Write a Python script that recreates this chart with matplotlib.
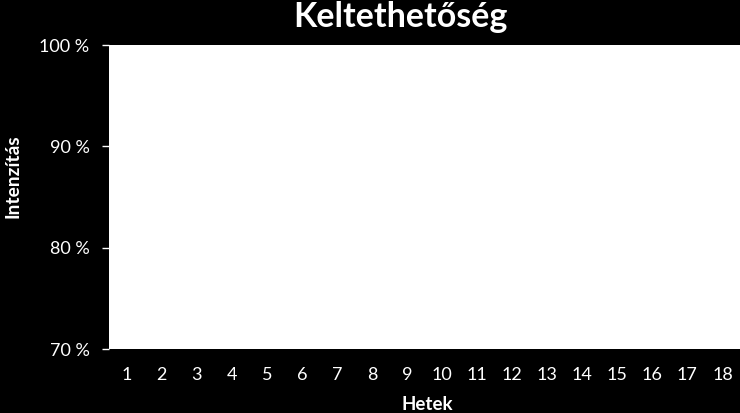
import matplotlib
matplotlib.use("Agg")
import matplotlib.pyplot as plt

plt.rcParams["font.family"] = ["Lato", "DejaVu Sans"]

weeks = [str(w) for w in range(1, 19)]
y_ticks = [0.70, 0.80, 0.90, 1.00]
y_tick_labels = ["70 %", "80 %", "90 %", "100 %"]
title = "Keltethetőség"
x_label = "Hetek"
y_label = "Intenzítás"

fig = plt.figure(figsize=(7.4, 4.13), dpi=100, facecolor="black")
ax = fig.add_axes([109 / 740, 1 - 349 / 413, 1 - 109 / 740, (349 - 45) / 413])
ax.set_facecolor("white")

positions = list(range(1, len(weeks) + 1))
ax.set_xlim(0.5, len(weeks) + 0.5)
ax.set_ylim(0.70, 1.00)
ax.set_xticks(positions)
ax.set_xticklabels(weeks)
ax.set_yticks(y_ticks)
ax.set_yticklabels(y_tick_labels)

for s in ax.spines.values():
    s.set_visible(False)

ax.tick_params(axis="x", length=0, pad=13, colors="white", labelsize=13)
ax.tick_params(axis="y", length=5, width=1, pad=9, colors="white", labelsize=13)

fig.text(400 / 740, 1 - 17 / 413, title, color="white", fontsize=24.5,
         fontweight="bold", ha="center", va="center")
fig.text(427 / 740, 1 - 405 / 413, x_label, color="white", fontsize=13.5,
         fontweight="bold", ha="center", va="center")
fig.text(13 / 740, 1 - 176 / 413, y_label, color="white", fontsize=13.8,
         fontweight="bold", ha="center", va="center", rotation=90)

fig.savefig("out.png", dpi=100, facecolor="black")
